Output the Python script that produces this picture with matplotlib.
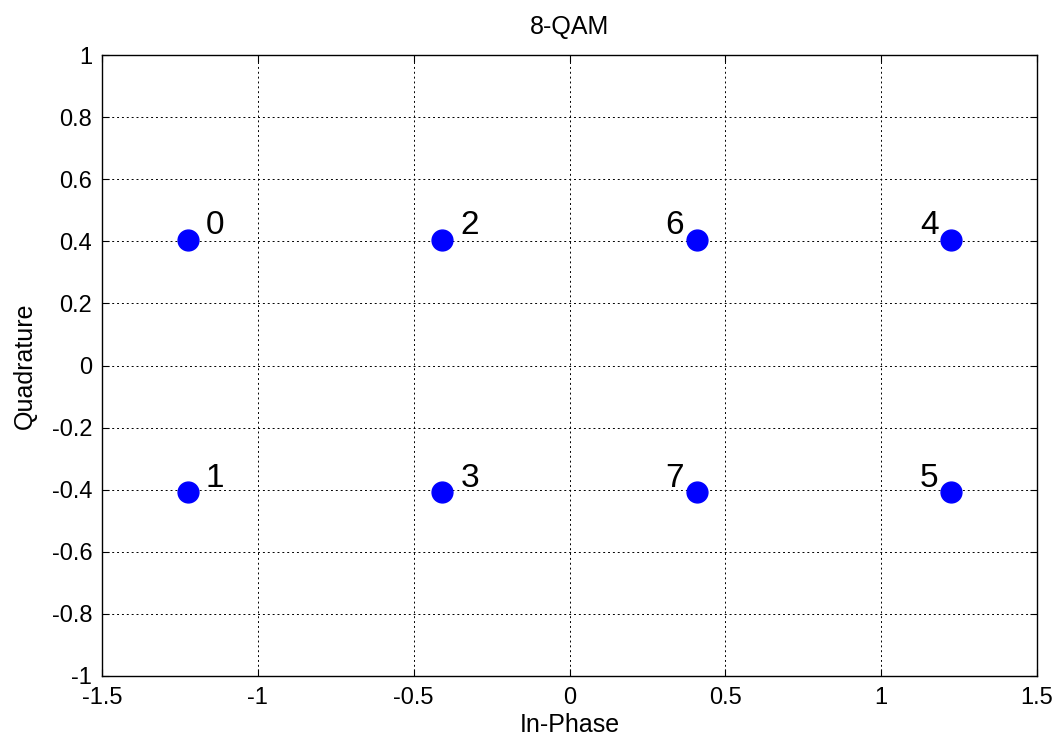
import matplotlib
matplotlib.use('Agg')
import matplotlib.pyplot as plt
import numpy as np

plt.rcParams['font.family'] = ['Liberation Sans', 'DejaVu Sans']

# 8-QAM constellation
in_phase = [-1.2247, -1.2247, -0.4082, -0.4082, 1.2247, 1.2247, 0.4082, 0.4082]
quadrature = [0.4041, -0.4082, 0.4041, -0.4082, 0.4041, -0.4082, 0.4041, -0.4082]
symbols = ['0', '1', '2', '3', '4', '5', '6', '7']

xticks = [-1.5, -1, -0.5, 0, 0.5, 1, 1.5]
yticks = [-1, -0.8, -0.6, -0.4, -0.2, 0, 0.2, 0.4, 0.6, 0.8, 1]

fig = plt.figure(figsize=(10.61, 7.44), dpi=100)
ax = fig.add_axes([102/1061, 1 - 676/744, 935/1061, 621/744])

ax.plot(in_phase, quadrature, 'o', color='#0000ff', markersize=15, zorder=3)

for x, y, s in zip(in_phase, quadrature, symbols):
    if x > 0:
        ax.annotate(s, (x, y), xytext=(-9, 4), textcoords='offset points',
                    ha='right', va='baseline', fontsize=24)
    else:
        ax.annotate(s, (x, y), xytext=(13, 4), textcoords='offset points',
                    ha='left', va='baseline', fontsize=24)

ax.set_xlim(-1.5, 1.5)
ax.set_ylim(-1, 1)
ax.set_xticks(xticks)
ax.set_yticks(yticks)
ax.set_xticklabels(['-1.5', '-1', '-0.5', '0', '0.5', '1', '1.5'])
ax.set_yticklabels(['-1', '-0.8', '-0.6', '-0.4', '-0.2', '0', '0.2', '0.4', '0.6', '0.8', '1'])
ax.grid(True, color='black', linestyle=(0, (2, 3)), linewidth=0.7)
ax.tick_params(direction='in', top=True, right=True, labelsize=17, length=5)
ax.tick_params(axis='x', pad=8)
ax.tick_params(axis='y', pad=7)
for sp in ax.spines.values():
    sp.set_linewidth(1.0)

ax.set_title('8-QAM', fontsize=18, pad=15)
ax.set_xlabel('In-Phase', fontsize=18, labelpad=3)
ax.set_ylabel('Quadrature', fontsize=18, labelpad=11)

fig.savefig('out.png', dpi=100)
